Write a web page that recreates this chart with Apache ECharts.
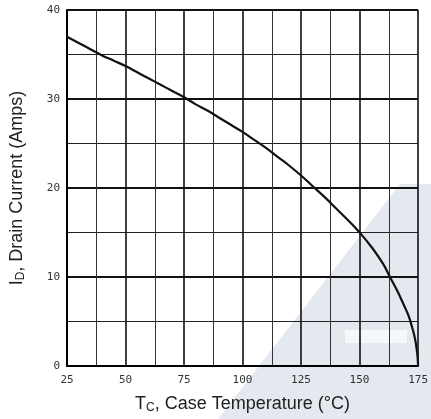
<!DOCTYPE html>
<html>
<head>
<meta charset="utf-8">
<script src="https://cdn.jsdelivr.net/npm/echarts@6/dist/echarts.min.js"></script>
<style>
html,body{margin:0;padding:0;background:#fff;}
#c{width:431px;height:419px;}
</style>
</head>
<body>
<div id="c"></div>
<script>
// Case temperature (°C) and drain current (A)
var temps    = [25, 30, 35, 40, 45, 50, 55, 60, 65, 70, 75, 80, 85, 90, 95, 100, 105, 110, 115, 120, 125, 130, 135, 140, 145, 150, 155, 160, 163, 166, 169, 171, 172.5, 173.5, 174.3, 174.8, 175];
var currents = [37.0, 36.3, 35.6, 34.9, 34.3, 33.7, 33.0, 32.3, 31.6, 30.9, 30.2, 29.4, 28.7, 27.9, 27.1, 26.3, 25.4, 24.5, 23.5, 22.5, 21.4, 20.2, 19.0, 17.7, 16.4, 15.0, 13.4, 11.5, 10.0, 8.5, 6.8, 5.6, 4.3, 3.3, 2.1, 1.0, 0];
var xTicks = [25, 50, 75, 100, 125, 150, 175];
var yTicks = [0, 10, 20, 30, 40];

var chart = echarts.init(document.getElementById('c'), null, {renderer: 'canvas'});
var pts = temps.map(function (t, i) { return [t, currents[i]]; });

chart.setOption({
  animation: false,
  backgroundColor: '#fff',
  grid: {left: 63, right: 12, top: 10, bottom: 52, containLabel: false},
  graphic: [
    {type: 'polygon', z: -10, silent: true,
     shape: {points: [[218, 419], [400, 184], [431, 184], [431, 419]]},
     style: {fill: '#e4e8ef'}},
    {type: 'rect', z: -9, silent: true,
     shape: {x: 345, y: 330, width: 62, height: 13},
     style: {fill: '#f5f7fa'}}
  ],
  xAxis: {
    type: 'value', min: xTicks[0], max: xTicks[xTicks.length - 1], interval: 25,
    axisLine: {show: true, lineStyle: {color: '#000', width: 2}},
    axisTick: {show: false},
    axisLabel: {color: '#333', fontSize: 11, fontFamily: 'DejaVu Sans Mono', margin: 9},
    splitLine: {show: true, lineStyle: {color: '#111', width: 1.6}},
    minorTick: {show: false, splitNumber: 2},
    minorSplitLine: {show: true, lineStyle: {color: '#333', width: 1}},
    name: '{a|T}{s|C}{a|, Case Temperature (°C)}',
    nameLocation: 'middle', nameGap: 28,
    nameTextStyle: {
      rich: {
        a: {fontSize: 18, color: '#222', fontFamily: 'Liberation Sans'},
        s: {fontSize: 12, color: '#222', fontFamily: 'Liberation Sans', padding: [8, 0, 0, 0]}
      }
    }
  },
  yAxis: {
    type: 'value', min: yTicks[0], max: yTicks[yTicks.length - 1], interval: 10,
    axisLine: {show: true, lineStyle: {color: '#000', width: 2}},
    axisTick: {show: false},
    axisLabel: {color: '#333', fontSize: 11, fontFamily: 'DejaVu Sans Mono', margin: 7},
    splitLine: {show: true, lineStyle: {color: '#111', width: 1.8}},
    minorTick: {show: false, splitNumber: 2},
    minorSplitLine: {show: true, lineStyle: {color: '#222', width: 1.2}},
    name: '{a|I}{s|D}{a|, Drain Current (Amps)}',
    nameLocation: 'middle', nameGap: 40, nameRotate: 90,
    nameTextStyle: {
      rich: {
        a: {fontSize: 18, color: '#222', fontFamily: 'Liberation Sans'},
        s: {fontSize: 12, color: '#222', fontFamily: 'Liberation Sans', padding: [8, 0, 0, 0]}
      }
    }
  },
  series: [{
    type: 'line', data: pts, smooth: 0.5, symbol: 'none',
    lineStyle: {color: '#111', width: 2.2}, z: 5
  }]
});
</script>
</body>
</html>
